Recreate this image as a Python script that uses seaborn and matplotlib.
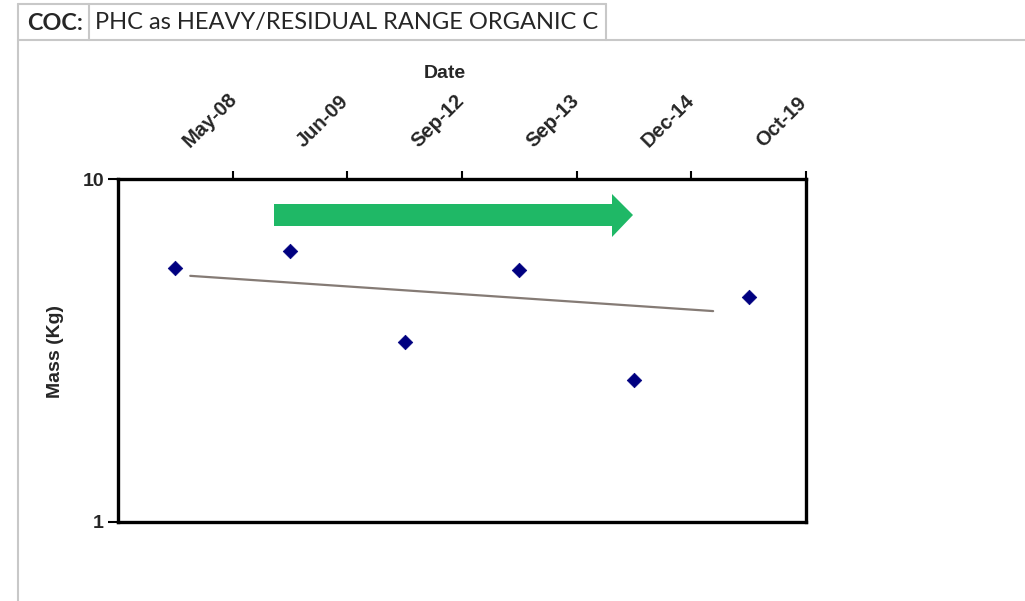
import matplotlib
matplotlib.use("Agg")
import matplotlib.pyplot as plt
import matplotlib.transforms as mtransforms
from matplotlib.lines import Line2D
from matplotlib.patches import Polygon
import seaborn as sns
import pandas as pd

# data
dates = ["May-08", "Jun-09", "Sep-12", "Sep-13", "Dec-14", "Oct-19"]
mass_kg = [5.50, 6.17, 3.35, 5.43, 2.59, 4.53]
trend_pos = [0.13, 4.69]
trend_kg = [5.22, 4.12]

coc_label = "COC:"
coc_name = "PHC as HEAVY/RESIDUAL RANGE ORGANIC C"

W, H = 1025, 601

sns.set_theme(style="white")
plt.rcParams['font.family'] = ['Liberation Sans', 'DejaVu Sans']

fig = plt.figure(figsize=(W / 100, H / 100), dpi=100, facecolor='white')

def fx(px):
    return px / W

def fy(py):
    return (H - py) / H

ax = fig.add_axes([fx(118), fy(522), fx(806) - fx(118), fy(179) - fy(522)])

df = pd.DataFrame({"Date": dates, "Mass": mass_kg})
sns.scatterplot(data=df, x="Date", y="Mass", marker='D', s=55, color='#000080',
                edgecolor='#000080', linewidth=0.5, ax=ax, zorder=4)
sns.lineplot(x=trend_pos, y=trend_kg, color='#857b75', linewidth=1.6, ax=ax, zorder=3)

ax.set_yscale('log')
ax.set_ylim(1, 10)
ax.set_xlim(-0.5, len(dates) - 0.5)
ax.set_yticks([1, 10], ['1', '10'])
ax.yaxis.set_minor_locator(matplotlib.ticker.NullLocator())
ax.tick_params(axis='y', which='major', direction='out', length=7, width=1.5,
               labelsize=14, pad=3, color='black', left=True)
for lbl in ax.get_yticklabels():
    lbl.set_fontweight('bold')

# top category axis: ticks between categories, labels rotated
ax.xaxis.tick_top()
ax.set_xticks([i + 0.5 for i in range(len(dates))])
ax.set_xticklabels([])
ax.set_xticks(range(len(dates)), dates, minor=True)
ax.tick_params(axis='x', which='major', direction='out', length=6, width=1.5,
               color='black', top=True, bottom=False)
ax.tick_params(axis='x', which='minor', length=0, pad=20, labelsize=14.5,
               top=True, bottom=False)
shift = mtransforms.ScaledTranslation(17 / 100, 0, fig.dpi_scale_trans)
for lbl in ax.get_xticklabels(minor=True):
    lbl.set_rotation(45)
    lbl.set_ha('left')
    lbl.set_va('bottom')
    lbl.set_rotation_mode('anchor')
    lbl.set_fontweight('bold')
    lbl.set_transform(lbl.get_transform() + shift)
ax.set_xlabel('')
ax.set_ylabel('')

for side in ['top', 'bottom', 'left', 'right']:
    ax.spines[side].set_visible(True)
    ax.spines[side].set_color('black')
    ax.spines[side].set_linewidth(2.4)

fig.text(fx(445), fy(73), 'Date', ha='center', va='center', fontsize=14, fontweight='bold')
fig.text(fx(55), fy(352), 'Mass (Kg)', ha='center', va='center', rotation=90,
         fontsize=14, fontweight='bold')

# green trend arrow
arrow_px = [(274, 204), (612, 204), (612, 194), (633, 215), (612, 237), (612, 226), (274, 226)]
fig.add_artist(Polygon([(fx(x), fy(y)) for x, y in arrow_px], closed=True,
                       transform=fig.transFigure, facecolor='#1fb866', edgecolor='none'))

# header boxes and frame
grey = '#c8c8c8'
for (x0, y0, x1, y1) in [(18, 4, 18, 601), (18, 40, 1025, 40), (18, 4, 606, 4),
                         (89, 4, 89, 40), (606, 4, 606, 40)]:
    fig.add_artist(Line2D([fx(x0), fx(x1)], [fy(y0), fy(y1)], color=grey,
                          linewidth=1.5, transform=fig.transFigure))
fig.text(fx(27), fy(23), coc_label, ha='left', va='center', fontsize=16.8,
         fontweight='bold', family=['Lato', 'DejaVu Sans'])
fig.text(fx(95), fy(23), coc_name, ha='left', va='center', fontsize=17,
         family=['Lato', 'DejaVu Sans'])

fig.savefig('out.png', dpi=100, facecolor='white')
